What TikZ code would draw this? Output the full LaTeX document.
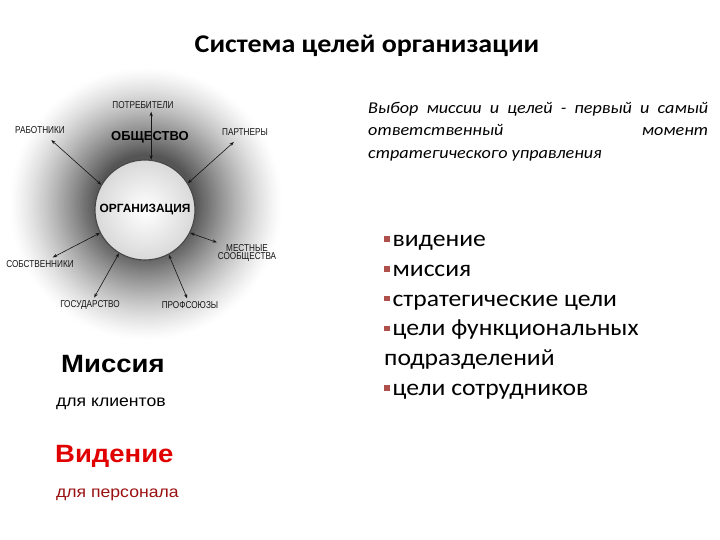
\documentclass[tikz,border=0pt]{standalone}
\usepackage{fontspec}
\setmainfont{Carlito}[FakeStretch=1.1]
\newfontfamily\arialfont{Liberation Sans}[FakeStretch=1.1]
\newfontfamily\plainfont{Liberation Sans}
\newfontfamily\narrowfont[FakeStretch=0.82]{Liberation Sans}
\usetikzlibrary{arrows.meta, positioning, calc}
\definecolor{BulletRed}{HTML}{B0504D}
\definecolor{VisionRed}{HTML}{E00000}
\definecolor{StaffRed}{HTML}{9A1010}
\definecolor{GlowGray}{HTML}{555555}
\definecolor{LabelGray}{HTML}{151515}
\newcommand{\bul}{\textcolor{BulletRed}{\rule[0.42ex]{0.24em}{0.24em}}\hspace{0.12em}}
\tikzset{
  % Text styles
  titletext/.style={font=\bfseries\fontsize{25.5}{29}\selectfont, inner sep=0pt},
  choicetext/.style={font=\fontsize{16.5}{22.5}\selectfont\itshape, text width=340pt, align=justify, inner sep=0pt, anchor=north west},
  goaltext/.style={font=\fontsize{23.3}{29.8}\selectfont, align=left, inner sep=0pt, anchor=north west},
  headtext/.style={font=\arialfont\bfseries\fontsize{25}{28}\selectfont, inner sep=0pt, anchor=west},
  subtext/.style={font=\arialfont\fontsize{16}{18}\selectfont, inner sep=0pt, anchor=west},
  % Diagram styles
  orgcircle/.style={circle, draw=gray!55!black, line width=1.1pt, shading=radial, inner color=white, outer color=gray!30, minimum size=100pt, font=\plainfont\bfseries\fontsize{11.9}{14}\selectfont, inner sep=0pt},
  societytext/.style={font=\plainfont\bfseries\fontsize{13}{15}\selectfont, inner sep=0pt},
  partytext/.style={font=\narrowfont\fontsize{10}{10.5}\selectfont, text=LabelGray, align=center, inner sep=1pt},
  % Arrow styles
  link/.style={<->, >={Stealth[length=4.5pt, width=3.2pt]}, line width=0.6pt, LabelGray, shorten >=2pt}
}
\begin{document}
\begin{tikzpicture}[x=1pt, y=-1pt]
  \useasboundingbox (0,0) rectangle (720,540);

  % Title
  \node[titletext] (title) at (367,46) {Система целей организации};

  % Glow behind the organisation
  \foreach \i in {0,...,45} {
    \pgfmathsetmacro{\rad}{140-2*\i}
    \pgfmathsetmacro{\pct}{100*(1-min(1,max(0,(\rad-50)/88)))^1.3}
    \fill[GlowGray!\pct!white] (146,204) circle (\rad pt);
  }

  % Organisation and its society
  \node[orgcircle] (org) at (145,210) {ОРГАНИЗАЦИЯ};
  \node[societytext] (society) at (150,137) {ОБЩЕСТВО};

  % Parties
  \node[partytext] (consumers) at (143,105) {ПОТРЕБИТЕЛИ};
  \node[partytext] (workers) at (40,130) {РАБОТНИКИ};
  \node[partytext] (partners) at (245,132) {ПАРТНЕРЫ};
  \node[partytext] (local) at (247,253) {МЕСТНЫЕ\\[-2pt]СООБЩЕСТВА};
  \node[partytext] (owners) at (40,264) {СОБСТВЕННИКИ};
  \node[partytext] (state) at (90,305) {ГОСУДАРСТВО};
  \node[partytext] (unions) at (190,305) {ПРОФСОЮЗЫ};

  % Arrows
  \draw[link] (org.83) -- (org.83 |- consumers.south);
  \draw[link, shorten >=8pt] (org.150) -- (workers);
  \draw[link, shorten >=8pt] (org.32) -- (partners);
  \draw[link] (org.-27) -- (local);
  \draw[link, shorten >=4pt] (org.207) -- (owners);
  \draw[link] (org.239) -- (state);
  \draw[link] (org.-62) -- (unions);

  % Mission and vision
  \node[headtext] (mission) at (61,364) {Миссия};
  \node[subtext] (clients) at (56,404) {для клиентов};
  \node[headtext, text=VisionRed] (vision) at (55,456) {Видение};
  \node[subtext, text=StaffRed] (staff) at (56,495) {для персонала};

  % Choice of mission
  \node[choicetext] (choice) at (368,102) {Выбор миссии и целей - первый и самый\linebreak ответственный момент\linebreak стратегического управления};

  % Goals
  \node[goaltext] (goals) at (384,235) {\bul видение\\ \bul миссия\\ \bul стратегические цели\\ \bul цели функциональных\\ подразделений\\ \bul цели сотрудников};
\end{tikzpicture}
\end{document}
